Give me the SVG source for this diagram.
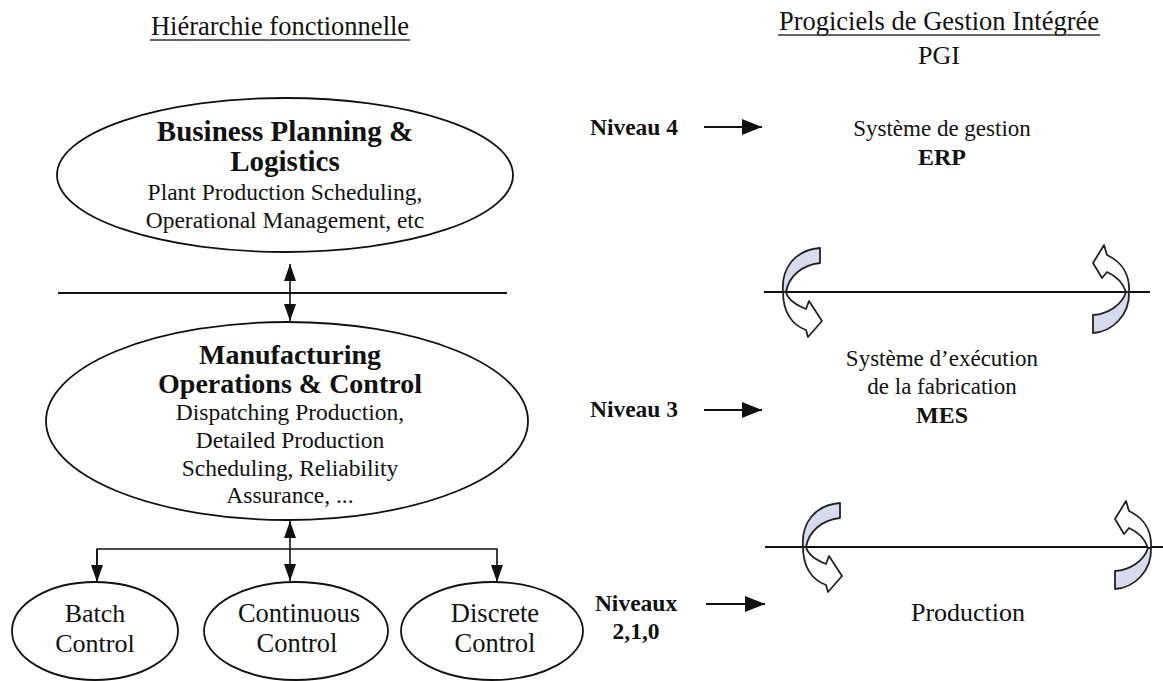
<svg xmlns="http://www.w3.org/2000/svg" width="1163" height="681" viewBox="0 0 1163 681">
<style>
.t{font-family:"Liberation Serif","Times New Roman",serif;fill:#111;text-anchor:middle}
.b{font-weight:bold}
.node{fill:#fff;stroke:#111;stroke-width:1.8}
.ln{stroke:#111;stroke-width:2;fill:none}
.c{stroke:#111;stroke-width:1.6;fill:none}
.sh{fill:#d6dbee;stroke:#222;stroke-width:1.8;stroke-linejoin:round}
.wh{fill:#fff;stroke:#222;stroke-width:1.8;stroke-linejoin:round}
</style>
<defs>
<marker id="av" viewBox="0 0 17 12" refX="17" refY="6" markerWidth="17" markerHeight="12" orient="auto-start-reverse" markerUnits="userSpaceOnUse">
<path d="M0 0 L17 6 L0 12 Z" fill="#111"/>
</marker>
<marker id="an" viewBox="0 0 20 16" refX="20" refY="8" markerWidth="20" markerHeight="16" orient="auto" markerUnits="userSpaceOnUse">
<path d="M0 0 L20 8 L0 16 Z" fill="#111"/>
</marker>
<g id="curlL">
<path class="sh" d="M783 292 C781 268 795 250 820 248 L820 263 C802 265 789 276 786 292 Z"/>
<path class="wh" d="M783 292 C783 312 792 325 806 330 L808 337 L822 321 L809 301 L806 309 C796 305 788 300 786 292 Z"/>
</g>
<g id="curlR">
<path class="sh" d="M1129 292 C1130 315 1112 332 1093 333 L1093 315 C1108 314 1122 305 1126 292 Z"/>
<path class="wh" d="M1129 292 C1130 275 1122 262 1107 255 L1104 245 L1093 263 L1102 278 L1107 272 C1116 276 1123 283 1126 292 Z"/>
</g>
</defs>
<rect width="1163" height="681" fill="#fff"/>

<g id="titles">
<text class="t" x="280" y="35" font-size="26.5">Hiérarchie fonctionnelle</text>
<line x1="150" y1="40" x2="410" y2="40" stroke="#333" stroke-width="1.5"/>
<text class="t" x="939" y="30" font-size="26.5">Progiciels de Gestion Intégrée</text>
<line x1="778" y1="35" x2="1100" y2="35" stroke="#333" stroke-width="1.5"/>
<text class="t" x="939" y="64" font-size="26">PGI</text>
</g>

<g id="connectors">
<line class="ln" x1="58" y1="293" x2="507" y2="293"/>
<line class="c" x1="290" y1="264" x2="290" y2="321" marker-start="url(#av)" marker-end="url(#av)"/>
<polyline class="c" points="97,582 97,549 497,549 497,582" marker-end="url(#av)"/>
<line class="c" x1="97" y1="549" x2="97" y2="582" marker-end="url(#av)"/>
<line class="c" x1="290" y1="521" x2="290" y2="581" marker-start="url(#av)" marker-end="url(#av)"/>
<line class="ln" x1="704" y1="127" x2="762" y2="127" marker-end="url(#an)"/>
<line class="ln" x1="704" y1="410" x2="762" y2="410" marker-end="url(#an)"/>
<line class="ln" x1="706" y1="604" x2="765" y2="604" marker-end="url(#an)"/>
<line class="ln" x1="764" y1="292" x2="1150" y2="292"/>
<line class="ln" x1="765" y1="547" x2="1163" y2="547"/>
<use href="#curlL"/>
<use href="#curlR"/>
<use href="#curlL" transform="translate(20,255)"/>
<use href="#curlR" transform="translate(22,256)"/>
</g>

<g id="n-bpl">
<ellipse class="node" cx="285" cy="175" rx="228" ry="77"/>
<text class="t b" x="285" y="141" font-size="29">Business Planning &amp;</text>
<text class="t b" x="285" y="171" font-size="29">Logistics</text>
<text class="t" x="285" y="200" font-size="23.5">Plant Production Scheduling,</text>
<text class="t" x="285" y="228" font-size="23.5">Operational Management, etc</text>
</g>

<g id="n-moc">
<ellipse class="node" cx="287" cy="421" rx="241" ry="99"/>
<text class="t b" x="290" y="364" font-size="28">Manufacturing</text>
<text class="t b" x="290" y="393" font-size="28">Operations &amp; Control</text>
<text class="t" x="290" y="420" font-size="23.5">Dispatching Production,</text>
<text class="t" x="290" y="448" font-size="23.5">Detailed Production</text>
<text class="t" x="290" y="476" font-size="23.5">Scheduling, Reliability</text>
<text class="t" x="290" y="503" font-size="23.5">Assurance, ...</text>
</g>

<g id="n-batch">
<ellipse class="node" cx="95" cy="631" rx="83" ry="49"/>
<text class="t" x="95" y="622" font-size="26">Batch</text>
<text class="t" x="95" y="652" font-size="26">Control</text>
</g>
<g id="n-cont">
<ellipse class="node" cx="296" cy="631" rx="92" ry="49"/>
<text class="t" x="299" y="622" font-size="26.5">Continuous</text>
<text class="t" x="297" y="652" font-size="26.5">Control</text>
</g>
<g id="n-disc">
<ellipse class="node" cx="492" cy="631" rx="91" ry="49"/>
<text class="t" x="495" y="622" font-size="26.5">Discrete</text>
<text class="t" x="495" y="652" font-size="26.5">Control</text>
</g>

<g id="levels">
<text class="t b" x="634" y="135" font-size="23.5">Niveau 4</text>
<text class="t b" x="634" y="417" font-size="23.5">Niveau 3</text>
<text class="t b" x="636" y="611" font-size="23.5">Niveaux</text>
<text class="t b" x="636" y="639" font-size="23.5">2,1,0</text>
</g>

<g id="n-erp">
<text class="t" x="942" y="136" font-size="23">Système de gestion</text>
<text class="t b" x="942" y="165" font-size="24">ERP</text>
</g>
<g id="n-mes">
<text class="t" x="942" y="366" font-size="23">Système d’exécution</text>
<text class="t" x="942" y="394" font-size="23">de la fabrication</text>
<text class="t b" x="942" y="423" font-size="24">MES</text>
</g>
<g id="n-prod">
<text class="t" x="968" y="621" font-size="26">Production</text>
</g>
</svg>
